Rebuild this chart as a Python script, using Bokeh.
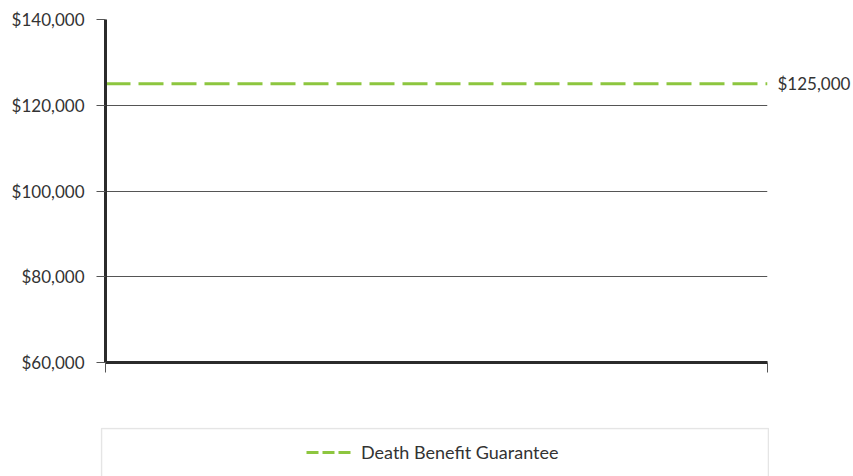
from bokeh.plotting import figure
from bokeh.models import (Range1d, FixedTicker, NumeralTickFormatter, LinearAxis,
                          Legend, LegendItem, BoxAnnotation, ColumnDataSource, Spacer)
from bokeh.layouts import column, row
from bokeh.embed import file_html
from bokeh.resources import INLINE

# ---- data ----
x_vals = [0, 1]
guarantee = [125000, 125000]
series_name = "Death Benefit Guarantee"
y_ticks = [60000, 80000, 100000, 120000, 140000]

FONT = "Lato"
TEXT_COLOR = "#333333"
GREEN = "#8dc63f"

p = figure(width=853, height=427, output_backend="svg", toolbar_location=None,
           x_range=Range1d(x_vals[0], x_vals[-1]),
           y_range=Range1d(y_ticks[0], y_ticks[-1]),
           min_border_left=105, min_border_right=85,
           min_border_top=19, min_border_bottom=65)
p.outline_line_color = None
p.background_fill_color = "white"
p.border_fill_color = "white"

# y axis
yax = p.yaxis[0]
yax.ticker = FixedTicker(ticks=y_ticks)
yax.formatter = NumeralTickFormatter(format="$0,0")
yax.axis_line_width = 3
yax.axis_line_color = "#2b2b2b"
yax.major_tick_in = 0
yax.major_tick_out = 9
yax.major_tick_line_color = "#555555"
yax.minor_tick_line_color = None
yax.major_label_standoff = 12
yax.major_label_text_font = FONT
yax.major_label_text_font_size = "17px"
yax.major_label_text_color = TEXT_COLOR

# x axis (no labels)
xax = p.xaxis[0]
xax.ticker = FixedTicker(ticks=x_vals)
xax.major_label_overrides = {x: "" for x in x_vals}
xax.axis_line_width = 3
xax.axis_line_color = "#2b2b2b"
xax.major_tick_in = 0
xax.major_tick_out = 10
xax.major_tick_line_color = "#555555"
xax.minor_tick_line_color = None

# right-side value label for the guarantee line
rax = LinearAxis(ticker=FixedTicker(ticks=[guarantee[-1]]),
                 formatter=NumeralTickFormatter(format="$0,0"),
                 axis_line_color=None, major_tick_line_color=None,
                 minor_tick_line_color=None, major_tick_in=0, major_tick_out=0,
                 major_label_standoff=10, major_label_text_font=FONT,
                 major_label_text_font_size="17px",
                 major_label_text_color=TEXT_COLOR)
p.add_layout(rax, "right")

p.xgrid.grid_line_color = None
p.ygrid.grid_line_color = "#555555"
p.ygrid.grid_line_width = 1
p.ygrid.ticker = FixedTicker(ticks=y_ticks)

src = ColumnDataSource(dict(x=x_vals, y=guarantee))
p.line("x", "y", source=src, line_color=GREEN, line_width=3, line_dash="25 8")

# ---- legend panel ----
lp = figure(width=669, height=49, output_backend="svg", toolbar_location=None,
            x_range=Range1d(0, 1), y_range=Range1d(0, 1),
            x_axis_type=None, y_axis_type=None, min_border=0)
lp.outline_line_color = None
lp.xgrid.visible = False
lp.ygrid.visible = False
# same series; lies outside this panel's range, so only its legend swatch shows
legend_r = lp.line("x", "y", source=src, line_color=GREEN, line_width=3,
                   line_dash="12 4")
lp.add_layout(BoxAnnotation(left=1, right=668, top=1, bottom=120,
                            left_units="canvas", right_units="canvas",
                            top_units="canvas", bottom_units="canvas",
                            fill_alpha=0, line_color="#aaaaaa", line_width=1.5))
legend = Legend(items=[LegendItem(label=series_name, renderers=[legend_r])],
                location=(206, 13), padding=0, margin=0, spacing=0,
                glyph_width=45, glyph_height=20, label_height=20,
                label_standoff=10, border_line_color=None,
                background_fill_alpha=0,
                label_text_font=FONT, label_text_font_size="18px",
                label_text_color=TEXT_COLOR)
lp.add_layout(legend, "center")

layout = column(p, row(Spacer(width=100, height=49), lp))

open("out.html", "w").write(file_html(layout, INLINE))
